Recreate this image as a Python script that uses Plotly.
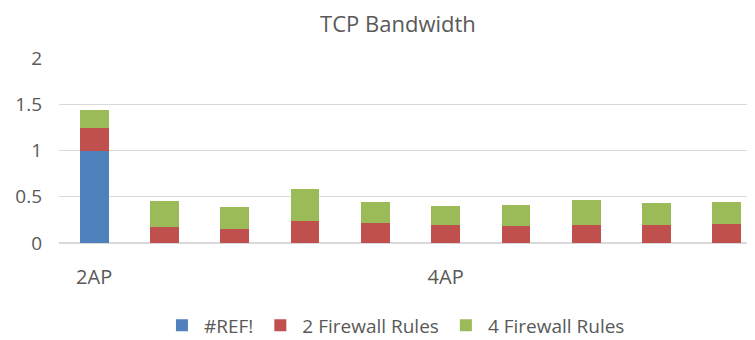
import plotly.graph_objects as go

# data
groups = ["2AP", "4AP", "4AP", "4AP", "4AP", "4AP", "4AP", "4AP", "4AP", "4AP"]
ref_vals = [1.0, 0, 0, 0, 0, 0, 0, 0, 0, 0]
fw2_vals = [0.24, 0.17, 0.155, 0.24, 0.22, 0.19, 0.18, 0.2, 0.19, 0.21]
fw4_vals = [0.2, 0.28, 0.23, 0.345, 0.22, 0.21, 0.23, 0.26, 0.24, 0.235]

x = list(range(len(groups)))

# one tick per group, centred under its bars
group_names = list(dict.fromkeys(groups))
group_pos = [sum(i for i, g in enumerate(groups) if g == n) / groups.count(n) for n in group_names]

font = "Open Sans"
grey = "#595959"

fig = go.Figure()
fig.add_trace(go.Bar(x=x, y=ref_vals, name="#REF!", marker_color="#4F81BD"))
fig.add_trace(go.Bar(x=x, y=fw2_vals, name="2 Firewall Rules", marker_color="#C0504D"))
fig.add_trace(go.Bar(x=x, y=fw4_vals, name="4 Firewall Rules", marker_color="#9BBB59"))

fig.update_traces(width=0.41, marker_line_width=0)

# the page body has an 8px margin, so the figure is 8px smaller than the window
fig.update_layout(
    barmode="stack",
    width=747, height=332,
    margin=dict(l=51, r=0, t=50, b=97, autoexpand=False),
    plot_bgcolor="white", paper_bgcolor="white",
    font=dict(family=font, color=grey, size=19),
    title=dict(text="TCP Bandwidth", x=0.522, xref="container", xanchor="center",
               y=0.95, yref="container", yanchor="middle",
               font=dict(size=22, color=grey, family=font)),
    legend=dict(orientation="h", x=0.518, xref="container", xanchor="center",
                y=-0.445, yref="paper", yanchor="middle",
                font=dict(size=19, color=grey), traceorder="normal",
                itemwidth=34),
    showlegend=True,
)
fig.update_xaxes(range=[-0.5, 9.4], tickvals=group_pos, ticktext=group_names,
                 tickfont=dict(size=20),
                 showgrid=False, zeroline=False, showline=False, ticks="",
                 ticklabelstandoff=20)
fig.update_yaxes(range=[0, 2], dtick=0.5, showgrid=True, gridcolor="#D9D9D9",
                 gridwidth=1, zeroline=True, zerolinecolor="#D9D9D9", zerolinewidth=1.5,
                 tickfont=dict(size=19),
                 showline=False, ticks="", ticklabelstandoff=16)

fig.write_html("out.html")
